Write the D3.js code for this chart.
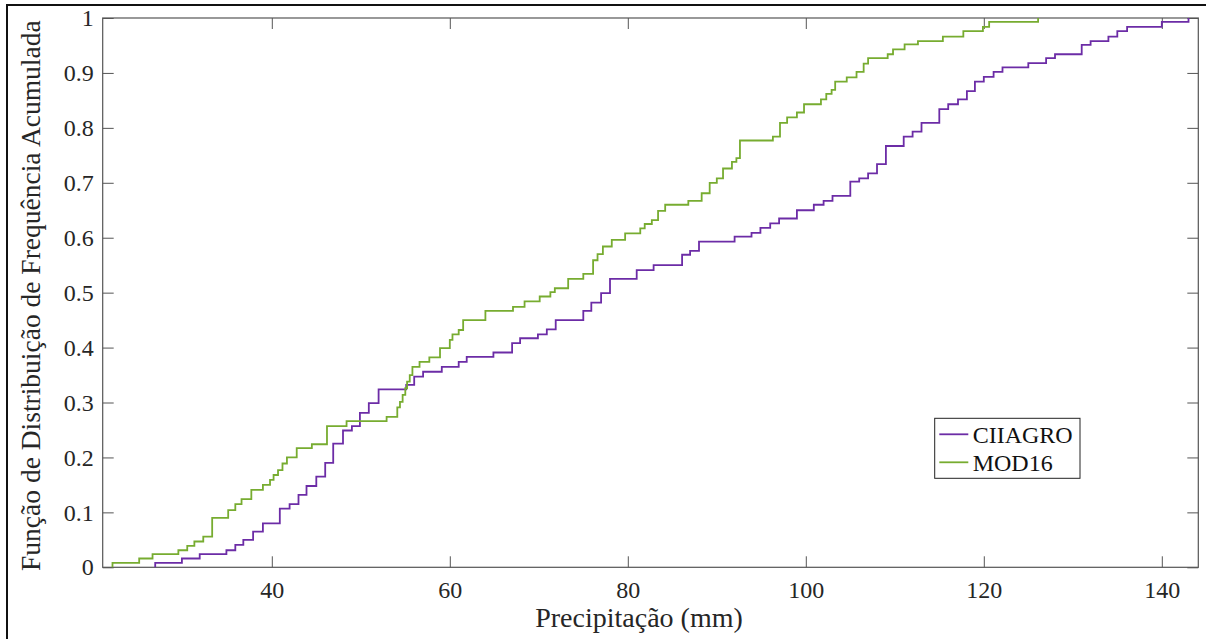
<!DOCTYPE html>
<html>
<head>
<meta charset="utf-8">
<script src="https://cdnjs.cloudflare.com/ajax/libs/d3/7.8.5/d3.min.js"></script>
<style>
  body { margin: 0; background: #fff; }
  svg { display: block; }
</style>
</head>
<body>
<div id="cdf_chart"></div>
<script>

var ciiagroX = [26.9, 29.9, 31.9, 34.9, 35.9, 36.8, 37.9, 39.0, 40.9, 42.0, 43.0, 43.9, 45.0, 46.0, 46.9, 48.0, 49.0, 49.9, 50.9, 52.0,
    55.1, 56.0, 57.0, 59.1, 61.0, 61.9, 64.9, 67.0, 67.9, 69.9, 70.9, 71.9, 75.0, 75.9, 77.0, 78.0, 81.0, 82.9, 86.1, 87.0,
    88.0, 92.0, 93.9, 94.9, 96.0, 97.0, 99.0, 100.9, 102.0, 103.0, 105.0, 106.0, 107.0, 108.0, 109.0, 111.0, 112.0, 113.0, 115.0, 116.0,
    117.1, 118.1, 119.0, 120.0, 121.1, 122.1, 125.0, 127.0, 128.0, 131.0, 132.0, 134.0, 135.0, 136.1, 140.0, 143.0];
var ciiagroF = [0.008, 0.016, 0.024, 0.031, 0.041, 0.050, 0.065, 0.080, 0.107, 0.115, 0.132, 0.148, 0.165, 0.190, 0.225, 0.249, 0.257, 0.281, 0.299, 0.324,
    0.332, 0.347, 0.356, 0.365, 0.374, 0.383, 0.391, 0.408, 0.417, 0.424, 0.433, 0.450, 0.467, 0.482, 0.499, 0.525, 0.541, 0.550, 0.569, 0.576,
    0.593, 0.602, 0.609, 0.618, 0.626, 0.635, 0.650, 0.660, 0.667, 0.676, 0.702, 0.708, 0.717, 0.734, 0.767, 0.784, 0.793, 0.809, 0.834, 0.843,
    0.852, 0.867, 0.884, 0.893, 0.902, 0.910, 0.918, 0.927, 0.934, 0.951, 0.958, 0.966, 0.976, 0.984, 0.993, 1.0];

var mod16X = [22.1, 25.1, 26.6, 29.5, 30.5, 31.3, 32.3, 33.3, 35.1, 35.9, 36.6, 37.7, 39.0, 39.8, 40.2, 40.7, 41.2, 41.7, 42.8, 44.5,
    46.2, 48.4, 52.9, 54.1, 54.4, 54.7, 55.0, 55.2, 55.5, 55.8, 56.6, 57.7, 58.9, 60.0, 60.3, 61.0, 61.5, 64.0, 67.1, 68.4,
    70.1, 71.3, 71.8, 73.3, 75.0, 76.1, 76.6, 77.2, 78.2, 79.7, 81.4, 81.9, 82.7, 83.4, 84.2, 86.8, 88.3, 89.2, 90.0, 90.7,
    91.7, 92.2, 92.6, 96.3, 97.1, 97.9, 99.0, 99.8, 101.7, 102.3, 102.9, 103.3, 104.6, 105.7, 106.5, 107.0, 109.2, 109.8, 111.1, 112.6,
    115.4, 117.7, 119.9, 120.6, 126.1];
var mod16F = [0.008, 0.016, 0.024, 0.031, 0.039, 0.047, 0.056, 0.090, 0.104, 0.115, 0.124, 0.141, 0.150, 0.159, 0.168, 0.177, 0.189, 0.200, 0.217, 0.224,
    0.257, 0.266, 0.274, 0.291, 0.301, 0.314, 0.326, 0.338, 0.350, 0.365, 0.374, 0.382, 0.399, 0.414, 0.424, 0.432, 0.450, 0.467, 0.474, 0.484,
    0.493, 0.501, 0.508, 0.525, 0.534, 0.559, 0.570, 0.584, 0.596, 0.608, 0.617, 0.625, 0.632, 0.649, 0.660, 0.667, 0.681, 0.700, 0.708, 0.726,
    0.738, 0.745, 0.777, 0.784, 0.809, 0.819, 0.828, 0.843, 0.852, 0.862, 0.869, 0.884, 0.892, 0.902, 0.917, 0.927, 0.934, 0.943, 0.952, 0.958,
    0.966, 0.976, 0.984, 0.993, 1.0];

var seriesNames = ["CIIAGRO", "MOD16"];
var seriesColors = ["#6c2ca6", "#77ac30"];
var xTicks = [40, 60, 80, 100, 120, 140];
var yTicks = [0, 0.1, 0.2, 0.3, 0.4, 0.5, 0.6, 0.7, 0.8, 0.9, 1];
var xDomain = [21, 144.1];

var width = 1206;
var height = 639;
// plot box in pixels ("top" is a reserved window property, so prefix these)
var plotL = 102.7, plotR = 1198.3, plotT = 18, plotB = 567.3;
var font = "'Times New Roman', 'Liberation Serif', serif";

var svg = d3.select("#cdf_chart")
    .append("svg")
    .attr("width", width)
    .attr("height", height);

// outer frame of the figure (only left and top edges fall inside the image)
svg.append("path")
    .attr("d", "M7,640 L7,5 L1210,5")
    .attr("fill", "none")
    .attr("stroke", "#111")
    .attr("stroke-width", 2);

var x = d3.scaleLinear().domain(xDomain).range([plotL, plotR]);
var y = d3.scaleLinear().domain([0, 1]).range([plotB, plotT]);

function styleAxis(g) {
    g.select(".domain").remove();
    g.selectAll(".tick line").attr("stroke", "#555").attr("stroke-width", 1);
    g.selectAll(".tick text")
        .attr("fill", "#262626")
        .style("font-family", font)
        .style("font-size", "24px");
}

svg.append("g")
    .attr("transform", "translate(0," + plotB + ")")
    .call(d3.axisBottom(x).tickValues(xTicks).tickSizeInner(-11).tickSizeOuter(0).tickPadding(14))
    .call(styleAxis);

svg.append("g")
    .attr("transform", "translate(0," + plotT + ")")
    .call(d3.axisTop(x).tickValues(xTicks).tickSizeInner(-11).tickSizeOuter(0).tickFormat(""))
    .call(styleAxis);

svg.append("g")
    .attr("transform", "translate(" + plotL + ",0)")
    .call(d3.axisLeft(y).tickValues(yTicks).tickSizeInner(-11).tickSizeOuter(0).tickPadding(9).tickFormat(d3.format("~g")))
    .call(styleAxis);

svg.append("g")
    .attr("transform", "translate(" + plotR + ",0)")
    .call(d3.axisRight(y).tickValues(yTicks).tickSizeInner(-11).tickSizeOuter(0).tickFormat(""))
    .call(styleAxis);

svg.append("rect")
    .attr("x", plotL)
    .attr("y", plotT)
    .attr("width", plotR - plotL)
    .attr("height", plotB - plotT)
    .attr("fill", "none")
    .attr("stroke", "#555")
    .attr("stroke-width", 1.2);

var stepLine = d3.line()
    .x(d => x(d[0]))
    .y(d => y(d[1]))
    .curve(d3.curveStepAfter);

var series = [[ciiagroX, ciiagroF], [mod16X, mod16F]];
series.forEach(function(s, i) {
    var pts = [[s[0][0], 0]].concat(s[0].map((v, j) => [v, s[1][j]]));
    svg.append("path")
        .datum(pts)
        .attr("d", stepLine)
        .attr("fill", "none")
        .attr("stroke", seriesColors[i])
        .attr("stroke-width", 1.8);
});

// axis labels
svg.append("text")
    .attr("x", 639)
    .attr("y", 627)
    .attr("text-anchor", "middle")
    .attr("fill", "#262626")
    .style("font-family", font)
    .style("font-size", "28px")
    .text("Precipitação (mm)");

svg.append("text")
    .attr("transform", "translate(40," + ((plotT + plotB) / 2 + 3) + ") rotate(-90)")
    .attr("text-anchor", "middle")
    .attr("fill", "#262626")
    .style("font-family", font)
    .style("font-size", "27.5px")
    .text("Função de Distribuição de Frequência Acumulada");

// legend
var legend = svg.append("g").attr("transform", "translate(934.7,418.3)");
legend.append("rect")
    .attr("width", 145.3)
    .attr("height", 60)
    .attr("fill", "#fff")
    .attr("stroke", "#222")
    .attr("stroke-width", 1);

seriesNames.forEach(function(name, i) {
    var ly = 16 + i * 28;
    legend.append("line")
        .attr("x1", 4.6).attr("x2", 33.6)
        .attr("y1", ly).attr("y2", ly)
        .attr("stroke", seriesColors[i])
        .attr("stroke-width", 1.8);
    legend.append("text")
        .attr("x", 38)
        .attr("y", ly)
        .attr("dy", "0.35em")
        .attr("fill", "#111")
        .style("font-family", font)
        .style("font-size", "24px")
        .text(name);
});

</script>
</body>
</html>
